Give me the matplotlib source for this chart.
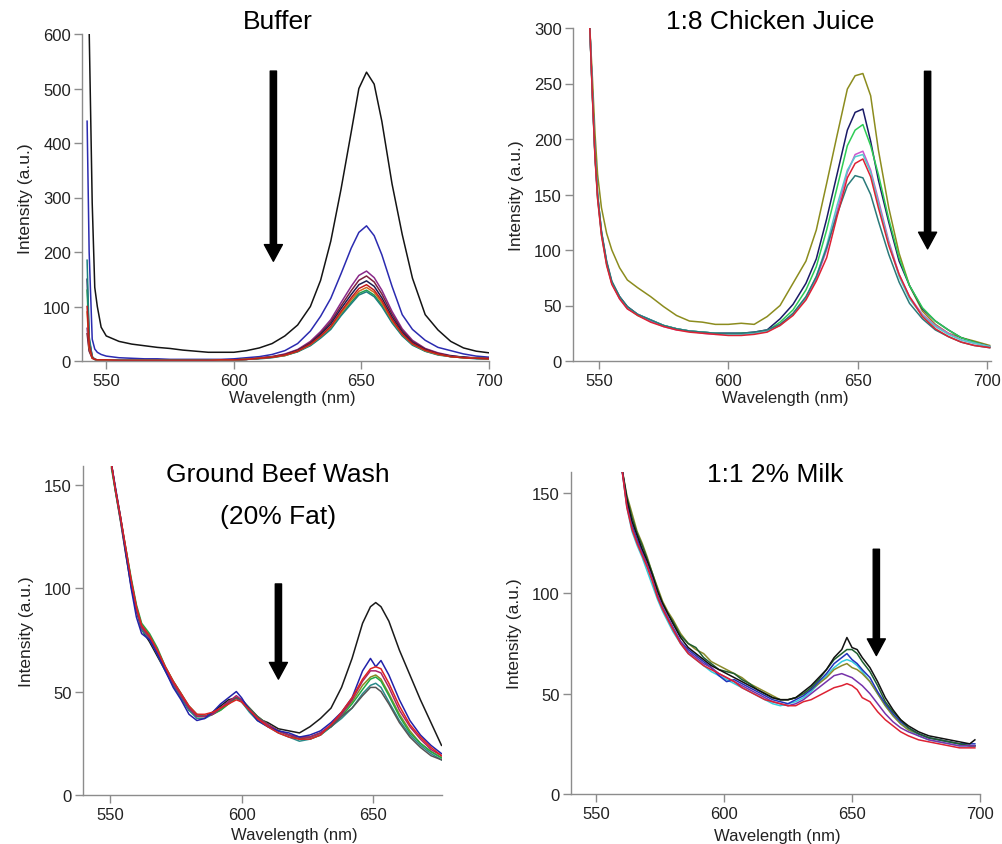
import matplotlib
matplotlib.use('Agg')
import matplotlib.pyplot as plt

plt.rcParams['font.family'] = ['Liberation Sans', 'DejaVu Sans']

# ---------- Buffer ----------
buf_wl = [542.5, 543.3, 544.5, 545.5, 546.5, 548, 550, 555, 560, 565, 570, 575, 580, 585, 590, 595, 600,
          605, 610, 615, 620, 625, 630, 634, 638, 642, 646, 649, 652, 655, 658, 662, 666, 670, 675, 680, 685,
          690, 695, 700]
buf_black = [650, 610, 290, 135, 100, 62, 46, 36, 31, 28, 25, 23, 20, 18, 16, 16, 16, 19, 24, 32,
             46, 66, 100, 148, 220, 315, 420, 500, 530, 508, 440, 325, 232, 152, 85, 57, 36, 24, 18, 15]
buf_blue = [440, 200, 40, 22, 16, 12, 9, 6, 5, 4, 4, 3, 3, 3, 3, 3, 4, 6, 8, 12,
            19, 32, 55, 82, 115, 160, 207, 236, 248, 230, 195, 137, 85, 58, 38, 25, 19, 13, 9, 7]
buf_purple = [60, 20, 6, 3, 2, 2, 2, 1, 1, 1, 1, 1, 1, 1, 1, 2, 2,
              3, 6, 8, 13, 21, 36, 54, 76, 107, 137, 157, 165, 153, 130, 91, 59, 38, 23, 15, 10, 7, 6, 5]
buf_maroon = [50, 18, 5, 3, 2, 2, 2, 1, 1, 1, 1, 1, 1, 1, 1, 2, 2,
              3, 5, 8, 12, 20, 34, 51, 72, 101, 129, 148, 156, 145, 123, 86, 56, 36, 22, 14, 9, 7, 5, 5]
buf_navy = [150, 40, 8, 3, 2, 2, 2, 1, 1, 1, 1, 1, 1, 1, 1, 2, 2,
            3, 5, 7, 11, 19, 32, 49, 68, 96, 122, 140, 147, 137, 116, 81, 53, 34, 21, 13, 9, 7, 5, 4]
buf_darkred = [100, 30, 6, 3, 2, 2, 2, 1, 1, 1, 1, 1, 1, 1, 1, 2, 2,
               3, 5, 7, 11, 18, 31, 46, 64, 91, 116, 133, 140, 130, 111, 77, 50, 32, 20, 13, 8, 6, 5, 4]
buf_orange = [90, 25, 5, 3, 2, 2, 2, 1, 1, 1, 1, 1, 1, 1, 1, 2, 2,
              3, 5, 7, 10, 18, 30, 45, 62, 88, 112, 128, 135, 126, 107, 74, 49, 31, 19, 12, 8, 6, 5, 4]
buf_green = [130, 35, 7, 3, 2, 2, 2, 1, 1, 1, 1, 1, 1, 1, 1, 2, 2,
             3, 5, 7, 10, 17, 29, 43, 60, 85, 108, 124, 130, 121, 103, 72, 47, 30, 18, 12, 8, 6, 5, 4]
buf_teal = [185, 45, 8, 3, 2, 2, 2, 1, 1, 1, 1, 1, 1, 1, 1, 2, 2,
            3, 4, 6, 10, 17, 28, 42, 58, 83, 105, 121, 127, 118, 100, 70, 46, 29, 18, 11, 8, 6, 4, 4]

# ---------- 1:8 Chicken Juice ----------
chk_wl = [545.5, 546.5, 547.5, 548.5, 549.5, 551, 553, 555, 558, 561, 565, 570, 575, 580, 585, 590, 595,
          600, 605, 610, 615, 620, 625, 630, 634, 638, 642, 646, 649, 652, 655, 658, 662, 666, 670, 675,
          680, 685, 690, 695, 701]
chk_olive = [330, 300, 255, 205, 168, 138, 115, 100, 84, 73, 66, 58, 49, 41, 36, 35, 33, 33, 34, 33, 40,
             50, 70, 90, 118, 160, 203, 245, 257, 259, 239, 190, 138, 97, 68, 45, 33, 25, 21, 18, 14]
chk_navy = [330, 300, 242, 186, 150, 116, 89, 71, 58, 49, 42, 37, 32, 29, 27, 26, 25, 25, 25, 26, 28,
            38, 51, 70, 92, 128, 168, 208, 224, 227, 198, 163, 125, 90, 68, 47, 36, 28, 21, 17, 13]
chk_green = [330, 300, 238, 184, 147, 114, 87, 70, 57, 48, 41, 36, 32, 29, 27, 26, 25, 24, 25, 25, 27,
             35, 46, 64, 85, 118, 156, 194, 208, 213, 194, 168, 128, 93, 68, 48, 36, 28, 21, 17, 13]
chk_magenta = [330, 300, 240, 185, 148, 115, 88, 70, 56, 47, 42, 36, 31, 28, 27, 25, 24, 24, 24, 25, 27,
               33, 42, 56, 74, 100, 135, 170, 186, 189, 172, 145, 108, 78, 58, 42, 32, 25, 19, 16, 13]
chk_cyan = [330, 300, 241, 186, 149, 116, 88, 71, 57, 48, 42, 37, 32, 29, 27, 26, 25, 24, 24, 25, 27,
            32, 42, 57, 76, 104, 140, 172, 184, 186, 170, 142, 106, 76, 56, 41, 31, 24, 19, 16, 13]
chk_red = [330, 300, 238, 183, 146, 113, 86, 69, 56, 47, 41, 35, 31, 28, 26, 25, 24, 23, 23, 24, 26,
           32, 41, 55, 72, 93, 130, 165, 178, 182, 166, 138, 104, 78, 58, 40, 29, 22, 17, 14, 12]
chk_teal = [330, 300, 240, 186, 150, 117, 90, 72, 58, 49, 42, 37, 32, 29, 27, 26, 25, 25, 25, 26, 28,
            33, 43, 58, 76, 102, 132, 158, 167, 165, 150, 126, 96, 71, 52, 38, 28, 22, 17, 14, 12]

# ---------- Ground Beef Wash ----------
beef_wl = [550.5, 552, 554, 556, 558, 560, 562, 565, 568, 571, 574, 577, 580, 583, 586, 589, 592, 595,
           598, 600, 603, 606, 610, 614, 618, 622, 626, 630, 634, 638, 642, 646, 649, 651, 653, 656, 660,
           664, 668, 672, 676]
beef_black = [160, 147, 132, 116, 101, 89, 80, 74, 67, 60, 53, 47, 41, 38, 38, 40, 43, 46, 47, 45, 41, 37,
              35, 32, 31, 30, 33, 37, 42, 52, 66, 83, 91, 93, 91, 84, 70, 58, 46, 35, 24]
beef_blue = [160, 149, 134, 117, 100, 86, 78, 75, 68, 60, 52, 46, 39, 36, 37, 40, 44, 47, 50, 47, 41, 36,
             33, 31, 30, 28, 29, 31, 35, 40, 47, 60, 66, 62, 65, 58, 46, 36, 29, 24, 20]
beef_red = [160, 148, 134, 119, 104, 91, 82, 77, 70, 62, 55, 49, 43, 39, 39, 40, 42, 44, 46, 45, 41, 37,
            33, 30, 28, 27, 27, 29, 34, 40, 47, 56, 61, 62, 61, 54, 43, 34, 28, 23, 19]
beef_crimson = [160, 148, 133, 118, 103, 90, 81, 76, 69, 61, 54, 48, 42, 38, 38, 39, 42, 45, 48, 46, 41, 37,
                34, 31, 29, 28, 28, 30, 34, 39, 46, 55, 60, 60, 59, 52, 41, 33, 27, 22, 19]
beef_olive = [159, 148, 134, 119, 104, 91, 82, 77, 70, 62, 55, 49, 42, 38, 38, 39, 41, 44, 47, 46, 42, 38,
              34, 31, 29, 28, 28, 30, 33, 39, 45, 53, 57, 58, 56, 49, 39, 31, 25, 21, 18]
beef_green = [158, 147, 133, 119, 105, 92, 83, 78, 71, 62, 55, 49, 43, 39, 38, 39, 41, 44, 47, 46, 42, 38,
              34, 31, 29, 27, 27, 29, 33, 38, 44, 51, 56, 57, 55, 48, 38, 30, 25, 21, 18]
beef_teal = [160, 148, 133, 118, 103, 90, 80, 75, 68, 60, 53, 47, 41, 37, 37, 39, 42, 45, 47, 45, 40, 36,
             33, 30, 28, 26, 27, 29, 33, 37, 42, 49, 53, 54, 52, 45, 36, 29, 24, 20, 17]
beef_gray = [160, 148, 134, 118, 103, 90, 81, 76, 69, 61, 54, 48, 42, 38, 38, 39, 42, 45, 47, 46, 42, 38,
             34, 31, 29, 27, 28, 30, 33, 38, 42, 48, 52, 52, 50, 44, 35, 28, 23, 19, 17]

# ---------- 1:1 2% Milk ----------
milk_wl = [560, 562, 564, 566, 568, 570, 572, 574, 576, 578, 580, 583, 586, 589, 592, 595, 598, 601, 604,
           607, 610, 613, 616, 619, 622, 625, 628, 631, 634, 637, 640, 643, 646, 648, 650, 652, 654, 657,
           660, 663, 666, 669, 672, 676, 680, 684, 688, 692, 696, 698]
milk_black = [163, 147, 136, 129, 122, 116, 109, 101, 95, 90, 85, 78, 73, 70, 67, 64, 62, 60, 58, 56,
              54, 52, 50, 48, 47, 47, 48, 51, 54, 58, 62, 68, 72, 78, 73, 72, 68, 63, 56, 48,
              42, 37, 34, 31, 29, 28, 27, 26, 25, 27]
milk_dkgreen = [163, 148, 138, 130, 124, 117, 110, 102, 95, 90, 86, 79, 75, 73, 68, 65, 62, 61, 60, 57,
                55, 52, 50, 48, 47, 47, 48, 50, 53, 57, 62, 67, 70, 72, 72, 70, 66, 61, 54, 46,
                41, 37, 33, 30, 28, 27, 26, 25, 24, 24]
milk_blue = [163, 146, 134, 127, 121, 114, 107, 99, 93, 88, 83, 76, 72, 69, 66, 63, 59, 56, 57, 55,
             53, 51, 49, 47, 46, 45, 47, 49, 52, 56, 60, 65, 68, 70, 67, 65, 62, 58, 51, 45,
             40, 36, 33, 30, 28, 27, 26, 25, 25, 25]
milk_olive = [163, 149, 140, 131, 125, 118, 110, 103, 96, 91, 87, 80, 75, 72, 70, 66, 64, 62, 60, 58,
              55, 53, 51, 49, 47, 47, 48, 50, 52, 55, 58, 62, 64, 65, 63, 62, 60, 56, 50, 44,
              39, 35, 32, 30, 28, 27, 26, 25, 24, 24]
milk_purple = [163, 144, 133, 126, 120, 114, 107, 99, 93, 88, 83, 76, 71, 68, 65, 63, 60, 58, 56, 54,
               52, 50, 48, 46, 45, 44, 45, 47, 50, 53, 56, 59, 60, 59, 58, 56, 54, 50, 45, 40,
               36, 33, 31, 29, 27, 26, 25, 24, 24, 24]
milk_red = [163, 143, 132, 125, 119, 113, 106, 98, 92, 87, 82, 75, 70, 67, 64, 62, 60, 58, 56, 53,
            51, 49, 47, 46, 45, 44, 44, 46, 47, 49, 51, 53, 54, 55, 54, 52, 48, 46, 41, 37,
            34, 31, 29, 27, 26, 25, 24, 23, 23, 23]
milk_cyan = [163, 143, 131, 124, 118, 111, 104, 97, 91, 86, 81, 75, 70, 67, 64, 61, 59, 57, 55, 53,
             51, 49, 47, 45, 44, 45, 46, 48, 51, 55, 59, 63, 66, 67, 66, 64, 61, 56, 50, 44,
             39, 35, 32, 29, 27, 26, 25, 24, 24, 24]

W, H = 1003, 845
fig = plt.figure(figsize=(W / 100, H / 100), dpi=100)


def box(left, top, right, bottom):
    # pixel box -> figure fraction
    return [left / W, 1 - bottom / H, (right - left) / W, (bottom - top) / H]


def style(ax):
    for s in ['top', 'right']:
        ax.spines[s].set_visible(False)
    for s in ['left', 'bottom']:
        ax.spines[s].set_color('#8c8c8c')
        ax.spines[s].set_linewidth(1.0)
    ax.tick_params(color='#8c8c8c', length=6, width=1, labelsize=12, labelcolor='#222222')
    ax.tick_params(axis='x', pad=3)
    ax.tick_params(axis='y', pad=2)
    ax.set_ylabel('Intensity (a.u.)', fontsize=12.5, color='#222222', labelpad=7)


def arrow(ax, x, y0, y1):
    ax.annotate('', xy=(x, y1), xytext=(x, y0),
                arrowprops=dict(facecolor='black', edgecolor='black', width=4.5,
                                headwidth=13, headlength=12, shrink=0))


# Buffer
ax1 = fig.add_axes(box(82, 35, 489, 362))
for y, c in [(buf_black, '#141414'), (buf_blue, '#2b2bb0'), (buf_purple, '#8a2a8a'),
             (buf_maroon, '#7a1f3d'), (buf_navy, '#1c1c50'), (buf_green, '#22a04a'),
             (buf_teal, '#1e7f7f'), (buf_orange, '#d2691e'), (buf_darkred, '#c01c1c')]:
    ax1.plot(buf_wl, y, color=c, lw=1.1)
ax1.set_xlim(540.5, 700)
ax1.set_ylim(0, 600)
ax1.set_xticks([550, 600, 650, 700])
ax1.set_yticks(range(0, 601, 100))
style(ax1)
arrow(ax1, 615.5, 532, 183)

# Chicken juice
ax2 = fig.add_axes(box(573, 29, 991, 362))
for y, c in [(chk_olive, '#8c8c1e'), (chk_navy, '#1a1a66'), (chk_green, '#2ecc55'),
             (chk_magenta, '#cc55cc'), (chk_cyan, '#55cccc'), (chk_teal, '#2a7a7a'),
             (chk_red, '#dd2233')]:
    ax2.plot(chk_wl, y, color=c, lw=1.1)
ax2.set_xlim(540, 701.5)
ax2.set_ylim(0, 300)
ax2.set_xticks([550, 600, 650, 700])
ax2.set_yticks(range(0, 301, 50))
style(ax2)
arrow(ax2, 677, 261, 101)

# Ground beef
ax3 = fig.add_axes(box(83, 467, 442, 796))
for y, c in [(beef_black, '#1a1a1a'), (beef_olive, '#8a8a22'), (beef_green, '#22aa44'),
             (beef_teal, '#2a8a8a'), (beef_gray, '#555555'), (beef_crimson, '#aa2266'),
             (beef_blue, '#2222aa'), (beef_red, '#dd2222')]:
    ax3.plot(beef_wl, y, color=c, lw=1.1)
ax3.set_xlim(539.7, 676.2)
ax3.set_ylim(0, 159)
ax3.set_xticks([550, 600, 650])
ax3.set_yticks([0, 50, 100, 150])
style(ax3)
arrow(ax3, 614, 102, 56)

# Milk
ax4 = fig.add_axes(box(571, 473, 980, 795))
for y, c in [(milk_cyan, '#33ccdd'), (milk_olive, '#8a8a2a'), (milk_blue, '#2233bb'),
             (milk_dkgreen, '#1f5f2f'), (milk_black, '#111111'), (milk_purple, '#7733aa'),
             (milk_red, '#dd2233')]:
    ax4.plot(milk_wl, y, color=c, lw=1.1)
ax4.set_xlim(540.2, 700)
ax4.set_ylim(0, 160.5)
ax4.set_xticks([550, 600, 650, 700])
ax4.set_yticks([0, 50, 100, 150])
style(ax4)
arrow(ax4, 659.5, 122, 69)

# titles and x labels
for txt, x, y in [('Buffer', 278, 22), ('1:8 Chicken Juice', 770, 22),
                  ('Ground Beef Wash', 278, 475), ('(20% Fat)', 278, 517), ('1:1 2% Milk', 775, 475)]:
    fig.text(x / W, 1 - y / H, txt, fontsize=19, ha='center', va='center', color='black')
for x, y in [(292, 399), (785, 399), (294, 836), (777, 837)]:
    fig.text(x / W, 1 - y / H, 'Wavelength (nm)', fontsize=12, ha='center', va='center', color='#222222')

fig.savefig('out.png', dpi=100)
